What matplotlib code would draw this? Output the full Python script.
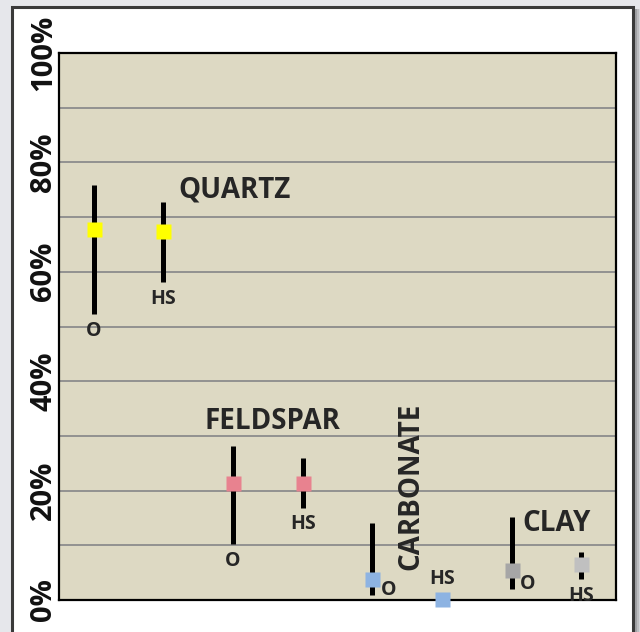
import matplotlib
matplotlib.use('Agg')
import matplotlib.pyplot as plt
import matplotlib.patches as patches

# minerals, two samples each: O and HS
minerals = ['QUARTZ', 'FELDSPAR', 'CARBONATE', 'CLAY']
samples = ['O', 'HS']
mid = [67.8, 67.5, 21.4, 21.4, 3.9, 0.1, 5.4, 6.5]
low = [52.2, 58.1, 10.2, 16.9, 1.0, 0.1, 2.1, 3.8]
high = [75.9, 72.7, 28.1, 25.9, 14.0, 0.1, 15.1, 8.7]
colors = ['#FFFF00', '#FFFF00', '#E8828F', '#E8828F',
          '#8DB3E2', '#8DB3E2', '#A6A6A6', '#C0C0C0']
label_side = ['below', 'below', 'below', 'below', 'right', 'above', 'right', 'below']
yticks = [0, 20, 40, 60, 80, 100]
ytick_labels = ['0%', '20%', '40%', '60%', '80%', '100%']

plt.rcParams['font.family'] = ['Open Sans', 'DejaVu Sans']
txt = '#262626'

W, H = 640, 632
fig = plt.figure(figsize=(W / 100, H / 100), dpi=100)
fig.patch.set_facecolor('#E6E7EB')


def fx(x):
    return x / W


def fy(y):
    return 1 - y / H


# white panel with dark frame and a soft shadow on the right
for i, a in enumerate([0.45, 0.3, 0.18, 0.08]):
    fig.patches.append(patches.Rectangle((fx(633 + i * 2), 0), fx(2), fy(9), transform=fig.transFigure,
                                         facecolor='black', alpha=a, edgecolor='none', zorder=0))
fig.patches.append(patches.Rectangle((fx(12), fy(640)), fx(621), fy(7) - fy(640), transform=fig.transFigure,
                                     facecolor='white', edgecolor='#3A3A3A', linewidth=2.2, zorder=1))

ax = fig.add_axes([fx(59), fy(600), fx(616) - fx(59), fy(53) - fy(600)], zorder=2)
ax.set_facecolor('#DDD9C3')

xs = [i + 0.5 for i in range(len(mid))]
for i, x in enumerate(xs):
    if high[i] > low[i]:
        ax.plot([x, x], [low[i], high[i]], color='black', lw=3.6, solid_capstyle='butt', zorder=3)
    ax.plot(x, mid[i], marker='s', ms=10.8, color=colors[i], mec='none', zorder=4, clip_on=False)
    lab = samples[i % 2]
    if label_side[i] == 'below':
        ax.annotate(lab, (x, low[i]), xytext=(0, -12), textcoords='offset points',
                    ha='center', va='center', fontsize=14, fontweight='bold', color=txt)
    elif label_side[i] == 'right':
        ax.annotate(lab, (x, low[i]), xytext=(11.5, 3), textcoords='offset points',
                    ha='center', va='center', fontsize=14, fontweight='bold', color=txt)
    else:
        ax.annotate(lab, (x, mid[i]), xytext=(0, 15), textcoords='offset points',
                    ha='center', va='center', fontsize=14, fontweight='bold', color=txt)

# mineral names
ax.text(1.71, 74.9, minerals[0], ha='left', va='center', fontsize=20, fontweight='bold', color=txt)
ax.text(3.06, 32.7, minerals[1], ha='center', va='center', fontsize=20, fontweight='bold', color=txt)
ax.text(5.06, 20.8, minerals[2], ha='center', va='center', rotation=90, fontsize=20,
        fontweight='bold', color=txt)
ax.text(6.66, 14.0, minerals[3], ha='left', va='center', fontsize=20, fontweight='bold', color=txt)

ax.set_xlim(0, len(mid))
ax.set_ylim(0, 100)
ax.set_xticks([])
ax.set_yticks(yticks)
ax.set_yticks(range(0, 101, 10), minor=True)
ax.set_yticklabels(ytick_labels, rotation=90, va='center', fontsize=21, fontweight='bold', color='#111111')
ax.tick_params(axis='y', which='both', length=0, pad=0.5)
ax.grid(axis='y', which='both', color='#8C8C8C', lw=1.3, zorder=1)
ax.set_axisbelow(True)
for s in ax.spines.values():
    s.set_color('black')
    s.set_linewidth(1.6)

fig.savefig('out.png', dpi=100, facecolor=fig.get_facecolor())
